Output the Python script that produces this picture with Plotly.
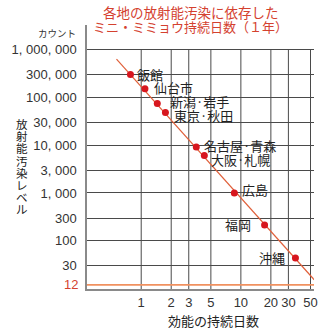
import numpy as np
import plotly.graph_objects as go

# Cities, effective duration (days) and radiation level (count)
cities = ["飯館", "仙台市", "新潟·岩手", "東京·秋田", "名古屋·青森", "大阪·札幌", "広島", "福岡", "沖縄"]
days = [0.78, 1.09, 1.45, 1.75, 3.57, 4.3, 8.6, 17.3, 35.3]
levels = [300000, 150000, 74000, 48000, 9100, 6100, 1000, 214, 44]

# Fitted trend line endpoints
trend_days = [0.565, 54.5]
trend_levels = [624000, 15.4]

# Threshold level
threshold = 12

# Axis ticks
x_ticks = [1, 2, 3, 5, 10, 20, 30, 50]
x_ticktext = ["1", "2", "3", "5", "10", "20", "30", "50"]
y_ticks = [30, 100, 300, 1000, 3000, 10000, 30000, 100000, 300000, 1000000]
y_ticktext = ["30", "100", "300", "1, 000", "3, 000", "10, 000", "30, 000",
              "100, 000", "300, 000", "1, 000, 000"]

# Label placement next to each point (pixels)
label_side = ["right", "right", "right", "right", "right", "right", "right", "left", "left"]
label_dx = [5, 7, 11, 7, 6, 5, 6, -12, -8]
label_dy = [0, 1, 2, -3, 2, -4, 3, 1, 0]

X_RANGE = [-0.544, 1.734]
Y_RANGE = [0.994, 6.51]
y_bottom = 10 ** Y_RANGE[0]
y_grid_top = 1000000

JP = "Noto Sans CJK JP"
NUM = "Liberation Sans"

W, H = 330, 333
ML, MR, MT, MB = 82, 12, 25, 44
pw, ph = W - ML - MR, H - MT - MB


def px_x(x):
    return (x - ML) / pw


def px_y(y):
    return (H - MB - y) / ph


fig = go.Figure()

# Vertical grid lines from the bottom axis up to the top gridline
gx, gy = [], []
for v in x_ticks:
    gx += [v, v, None]
    gy += [y_bottom, y_grid_top, None]
fig.add_trace(go.Scatter(x=gx, y=gy, mode="lines",
                         line=dict(color="#4a4a4a", width=1),
                         hoverinfo="skip", showlegend=False))

# Threshold line
fig.add_trace(go.Scatter(x=[10 ** X_RANGE[0], 10 ** X_RANGE[1]], y=[threshold, threshold],
                         mode="lines", line=dict(color="#F0915F", width=1.6),
                         hoverinfo="skip", showlegend=False))

# Trend line
fig.add_trace(go.Scatter(x=trend_days, y=trend_levels, mode="lines",
                         line=dict(color="#E0603A", width=1.2),
                         hoverinfo="skip", showlegend=False))

# City points
fig.add_trace(go.Scatter(x=days, y=levels, mode="markers",
                         marker=dict(color="#D7161E", size=7),
                         hoverinfo="skip", showlegend=False))

annotations = []
for name, d, lv, side, dx, dy in zip(cities, days, levels, label_side, label_dx, label_dy):
    annotations.append(dict(
        x=np.log10(d), y=np.log10(lv), xref="x", yref="y", text=name,
        showarrow=False, xanchor="left" if side == "right" else "right", yanchor="middle",
        xshift=dx, yshift=dy, font=dict(family=JP, size=13, color="#222222")))


def paper_text(x, y, text, size, color, family=JP, xanchor="center"):
    annotations.append(dict(x=px_x(x), y=px_y(y), xref="paper", yref="paper", text=text,
                            showarrow=False, xanchor=xanchor, yanchor="middle",
                            font=dict(family=family, size=size, color=color)))


# Title
paper_text(190, 12, "各地の放射能汚染に依存した", 13.5, "#D4412F")
paper_text(190, 26, "ミニ・ミミョウ持続日数（１年）", 13, "#D4412F")

# Unit label
paper_text(51, 33, "カウント", 9.5, "#333333")

# Threshold tick label
annotations.append(dict(x=0, y=np.log10(threshold), xref="paper", yref="y", text="12",
                        showarrow=False, xanchor="right", yanchor="middle", xshift=-7,
                        font=dict(family=NUM, size=13, color="#D4412F")))

# X axis title
paper_text(213, 320, "効能の持続日数", 13, "#222222")

# Vertical Y axis title, one character per line
y_title = "放射能汚染レベル"
for i, ch in enumerate(y_title):
    paper_text(14, 124 + 12.2 * i, ch, 11.5, "#222222")

fig.update_layout(
    width=W, height=H,
    margin=dict(l=ML, r=MR, t=MT, b=MB),
    paper_bgcolor="white", plot_bgcolor="white",
    annotations=annotations,
    xaxis=dict(type="log", range=X_RANGE, tickvals=x_ticks, ticktext=x_ticktext,
               showgrid=False, zeroline=False, showline=True, linecolor="#8a8a8a", linewidth=2,
               ticks="", ticklabelstandoff=0,
               tickfont=dict(family=NUM, size=13, color="#333333")),
    yaxis=dict(type="log", range=Y_RANGE, tickvals=y_ticks, ticktext=y_ticktext,
               showgrid=True, gridcolor="#4a4a4a", gridwidth=1, zeroline=False,
               showline=True, linecolor="#8a8a8a", linewidth=1.5, ticks="",
               ticklabelstandoff=6,
               tickfont=dict(family=NUM, size=13, color="#333333")),
    hovermode=False,
)

fig.write_html("out.html")
